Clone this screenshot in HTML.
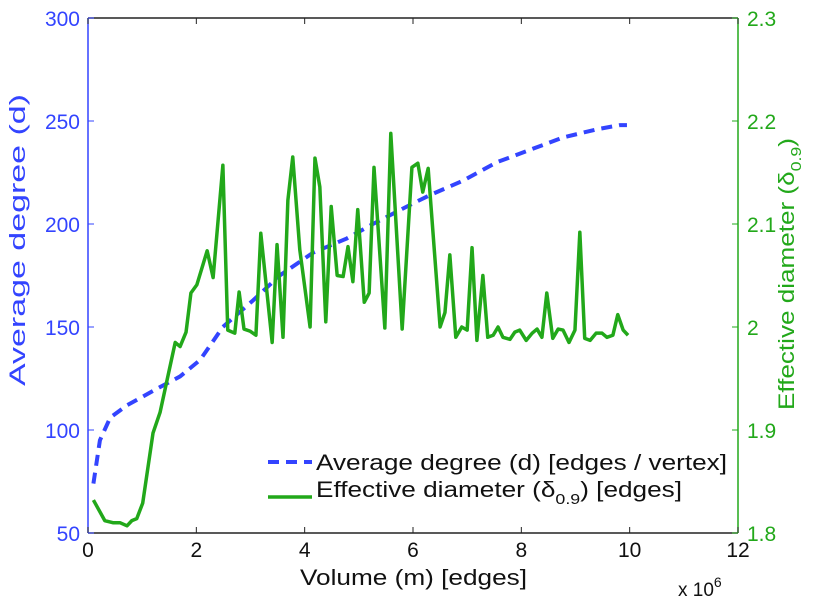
<!DOCTYPE html>
<html><head><meta charset="utf-8"><style>
body{margin:0;background:#fff;position:relative}
svg{font-family:"Liberation Sans",sans-serif}
#chart{position:absolute;left:0;top:0}
</style></head><body>
<svg id="chart" width="821" height="600"></svg>
<script>
const xTicks=[0,2,4,6,8,10,12];
const leftTicks=[50,100,150,200,250,300];
const rightTicks=[1.8,1.9,2,2.1,2.2,2.3];
const degX=[0.1,0.22,0.41,0.72,1.27,1.70,2.07,2.49,3.05,3.54,4.15,4.78,5.26,6.0,6.31,6.92,7.55,8.16,8.77,9.40,9.82,9.95];
const degY=[74,95,106,112,120,126,134,150,163,175,186,193,200,210,214,221,230,236,242,246,248,248];
const diaX=[0.10,0.31,0.46,0.59,0.72,0.81,0.90,1.01,1.20,1.33,1.61,1.70,1.81,1.90,2.01,2.20,2.31,2.49,2.58,2.71,2.79,2.88,2.99,3.10,3.19,3.40,3.49,3.60,3.69,3.78,3.91,4.10,4.19,4.28,4.39,4.49,4.60,4.71,4.80,4.89,4.98,5.10,5.19,5.28,5.48,5.59,5.80,5.98,6.09,6.18,6.28,6.50,6.59,6.68,6.79,6.90,7.00,7.09,7.18,7.29,7.38,7.48,7.57,7.66,7.79,7.88,7.97,8.09,8.20,8.29,8.38,8.47,8.58,8.68,8.77,8.88,8.99,9.08,9.17,9.27,9.38,9.49,9.58,9.69,9.78,9.88,9.97];
const diaY=[1.832,1.812,1.810,1.810,1.807,1.812,1.814,1.829,1.897,1.917,1.985,1.981,1.995,2.033,2.041,2.074,2.048,2.157,1.997,1.994,2.034,1.998,1.996,1.992,2.091,1.985,2.080,1.990,2.123,2.165,2.075,2.000,2.164,2.136,2.005,2.117,2.050,2.049,2.078,2.044,2.114,2.024,2.033,2.155,1.999,2.188,1.998,2.155,2.159,2.131,2.154,2.000,2.014,2.070,1.990,2.000,1.997,2.077,1.987,2.050,1.990,1.992,2.000,1.990,1.988,1.995,1.997,1.987,1.994,1.998,1.990,2.033,1.989,1.998,1.997,1.985,1.997,2.092,1.989,1.987,1.994,1.994,1.990,1.992,2.012,1.997,1.992];

const L=88,R=738,T=18,B=533;
const sx=v=>L+(v-0)/12*(R-L);
const sl=v=>B-(v-50)/250*(B-T);
const sr=v=>B-(v-1.8)/0.5*(B-T);
const svg=document.getElementById('chart');
const NS='http://www.w3.org/2000/svg';
function mk(tag,attrs,parent){const e=document.createElementNS(NS,tag);for(const k in attrs)e.setAttribute(k,attrs[k]);(parent||svg).appendChild(e);return e;}
const BLUE='#3344ff',GREEN='#22a81a';

let e;
e=mk('line',{x1:L,y1:T,x2:R,y2:T,stroke:'#222','stroke-width':1.5});


e=mk('line',{x1:L,y1:B,x2:R,y2:B,stroke:'#222','stroke-width':1.5});


e=mk('line',{x1:L,y1:T,x2:L,y2:B,stroke:BLUE,'stroke-width':1.5});


e=mk('line',{x1:R,y1:T,x2:R,y2:B,stroke:GREEN,'stroke-width':1.5});



xTicks.forEach(v=>{
  mk('line',{x1:sx(v),y1:B,x2:sx(v),y2:B-6,stroke:'#222'});
  mk('line',{x1:sx(v),y1:T,x2:sx(v),y2:T+6,stroke:'#222'});
  const t=mk('text',{x:sx(v),y:B+24,'text-anchor':'middle','font-size':21,fill:'#111'});
  t.textContent=v;
  
  
});
leftTicks.forEach(v=>{
  mk('line',{x1:L,y1:sl(v),x2:L+6,y2:sl(v),stroke:BLUE});
  const t=mk('text',{x:L-8,y:sl(v)+8,'text-anchor':'end','font-size':21,fill:BLUE});
  t.textContent=v;
  
  
});
rightTicks.forEach(v=>{
  mk('line',{x1:R,y1:sr(v),x2:R-6,y2:sr(v),stroke:GREEN});
  const t=mk('text',{x:R+9,y:sr(v)+8,'text-anchor':'start','font-size':21,fill:GREEN});
  t.textContent=String(v);
  
  
});

e=mk('polyline',{points:degX.map((x,i)=>sx(x)+','+sl(degY[i])).join(' '),fill:'none',stroke:BLUE,'stroke-width':4,'stroke-dasharray':'11,7'});


e=mk('polyline',{points:diaX.map((x,i)=>sx(x)+','+sr(diaY[i])).join(' '),fill:'none',stroke:GREEN,'stroke-width':3.5,'stroke-linejoin':'round'});


</script>
<svg width="821" height="600" style="position:absolute;left:0;top:0">
<g>
<line x1="268" y1="462" x2="312" y2="462" stroke="#3344ff" stroke-width="4" stroke-dasharray="11,7"/>
<text x="316" y="470" font-size="22" textLength="411" lengthAdjust="spacingAndGlyphs" fill="#111">Average degree (d) [edges / vertex]</text>
<line x1="268" y1="497" x2="312" y2="497" stroke="#22a81a" stroke-width="3.5"/>
<text x="316" y="497" font-size="22" fill="#111" textLength="366" lengthAdjust="spacingAndGlyphs">Effective diameter (δ<tspan font-size="15" dy="7">0.9</tspan><tspan dy="-7">) [edges]</tspan></text>
</g>
<text x="300" y="585" font-size="22" textLength="227" lengthAdjust="spacingAndGlyphs" fill="#111">Volume (m) [edges]</text>
<text x="678" y="596" font-size="19" fill="#111">x 10<tspan font-size="14" dy="-9">6</tspan></text>
<text transform="translate(25,386) rotate(-90)" font-size="22" textLength="292" lengthAdjust="spacingAndGlyphs" fill="#3344ff">Average degree (d)</text>
<text transform="translate(794,410) rotate(-90)" font-size="22" textLength="272" lengthAdjust="spacingAndGlyphs" fill="#22a81a">Effective diameter (δ<tspan font-size="15" dy="7">0.9</tspan><tspan dy="-7">)</tspan></text>
</svg>
</body></html>
